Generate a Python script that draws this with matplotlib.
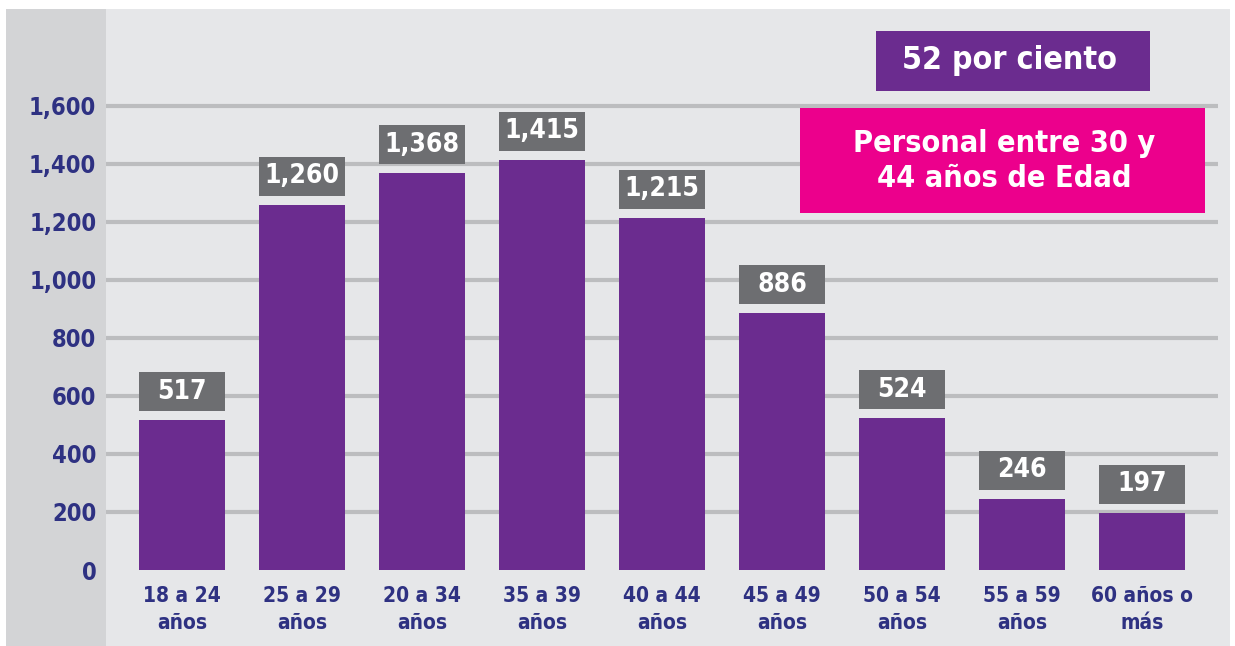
import matplotlib.pyplot as plt
from matplotlib.patches import Rectangle

plt.rcParams['font.family'] = ['DejaVu Sans']
plt.rcParams['font.stretch'] = 'condensed'

grupos = ['18 a 24\naños', '25 a 29\naños', '20 a 34\naños', '35 a 39\naños', '40 a 44\naños',
          '45 a 49\naños', '50 a 54\naños', '55 a 59\naños', '60 años o\nmás']
personal = [517, 1260, 1368, 1415, 1215, 886, 524, 246, 197]
etiquetas = ['517', '1,260', '1,368', '1,415', '1,215', '886', '524', '246', '197']
yticks = [0, 200, 400, 600, 800, 1000, 1200, 1400, 1600]
ytick_labels = ['0', '200', '400', '600', '800', '1,000', '1,200', '1,400', '1,600']

morado = '#6b2c8f'
rosa = '#ec008c'
gris_caja = '#6d6e71'
azul = '#2e3182'

W, H = 1235, 646
fig = plt.figure(figsize=(W / 100, H / 100), dpi=100, facecolor='white')

def fx(px):
    return px / W

def fy(py):
    return 1 - py / H

# banda gris de la izquierda
fig.add_artist(Rectangle((fx(6), 0), fx(106) - fx(6), fy(9), transform=fig.transFigure,
                         facecolor='#d3d4d6', edgecolor='none', zorder=-1))

ax = fig.add_axes([fx(106), 0, fx(1230) - fx(106), fy(9)])
ax.set_facecolor('#e6e7e9')
for s in ax.spines.values():
    s.set_visible(False)

x = list(range(len(grupos)))
ax.set_xlim(-0.633, 8.733)
ax.set_ylim(-262, 1934)

ax.hlines(yticks[1:], -0.633, 8.633, colors='#bcbdbf', linewidth=3, zorder=1)
ax.bar(x, personal, width=0.717, color=morado, zorder=2)

for xi, v, lab in zip(x, personal, etiquetas):
    ax.add_patch(Rectangle((xi - 0.3585, v + 31), 0.717, 134, facecolor=gris_caja,
                           edgecolor='none', zorder=3))
    ax.text(xi, v + 31 + 67, lab, ha='center', va='center', color='white',
            fontsize=19, fontweight='bold', zorder=4)

ax.set_yticks(yticks)
ax.set_yticklabels(ytick_labels, fontsize=17, fontweight='bold', color=azul)
ax.tick_params(axis='y', length=0, pad=7)
ax.set_xticks([])

# etiquetas de categorías dentro del área gris inferior
for xi, g in zip(x, grupos):
    ax.text(xi, -55, g, ha='center', va='top', fontsize=15, fontweight='bold',
            color=azul, linespacing=1.45)

# cajas de anotación
fig.add_artist(Rectangle((fx(876), fy(91)), fx(1150) - fx(876), fy(31) - fy(91),
                         transform=fig.transFigure, facecolor=morado, edgecolor='none', zorder=5))
fig.text(fx(1010), fy(61), '52 por ciento', ha='center', va='center', color='white',
         fontsize=23, fontweight='bold', zorder=6)
fig.add_artist(Rectangle((fx(800), fy(213)), fx(1205) - fx(800), fy(108) - fy(213),
                         transform=fig.transFigure, facecolor=rosa, edgecolor='none', zorder=5))
fig.text(fx(1004), fy(161), 'Personal entre 30 y\n44 años de Edad', ha='center', va='center',
         color='white', fontsize=22, fontweight='bold', linespacing=1.25, zorder=6)

fig.savefig('out.png', dpi=100, facecolor='white')
